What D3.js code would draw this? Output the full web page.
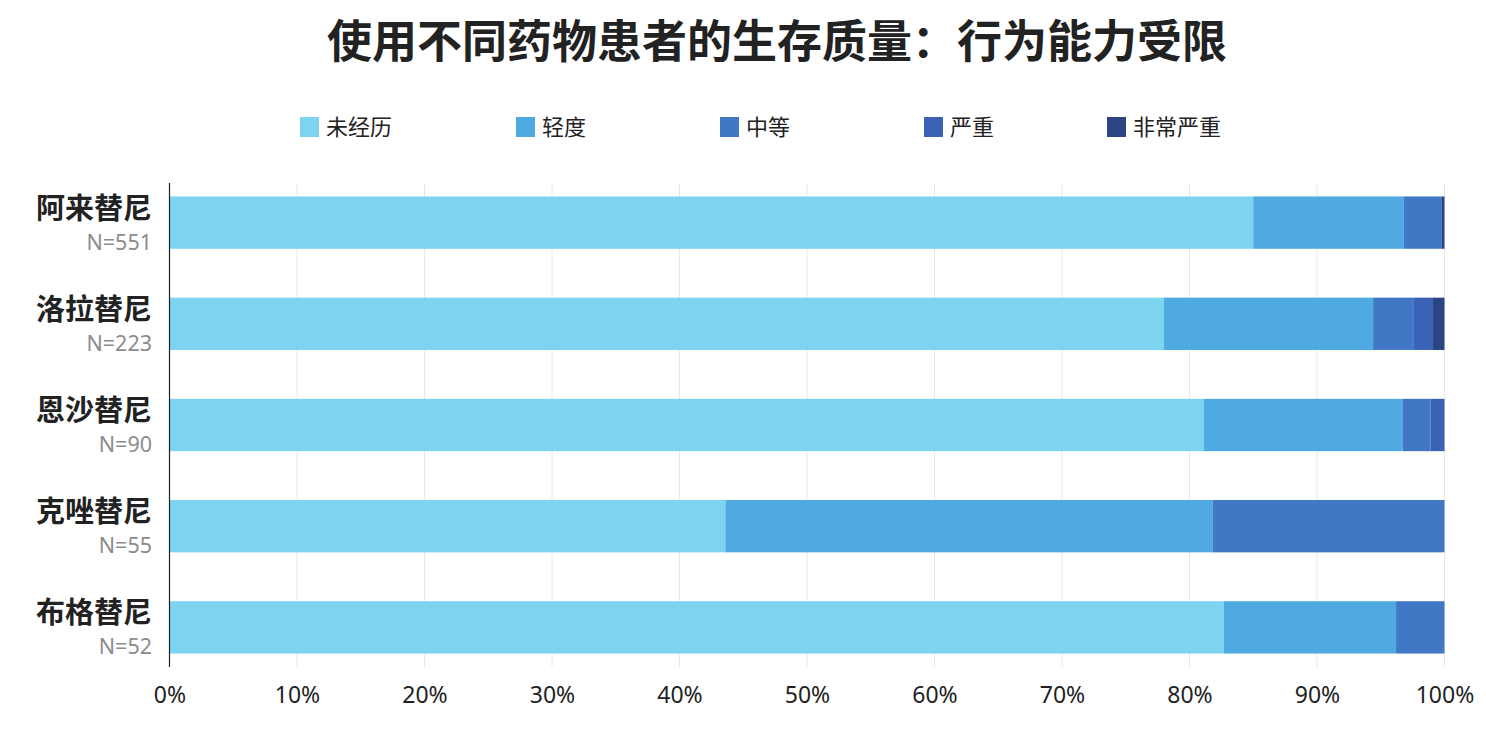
<!DOCTYPE html>
<html>
<head>
<meta charset="utf-8">
<script src="https://cdn.jsdelivr.net/npm/d3@7"></script>
<style>
  html, body { margin: 0; padding: 0; background: #ffffff; }
  svg { display: block; font-family: "Noto Sans CJK SC", "Noto Sans", sans-serif; }
</style>
</head>
<body>
<div id="chart"></div>
<script>
// chart data
const drugs = ['阿来替尼', '洛拉替尼', '恩沙替尼', '克唑替尼', '布格替尼'];
const sampleSizes = [551, 223, 90, 55, 52];
const levels = ['未经历', '轻度', '中等', '严重', '非常严重'];
const levelColors = ['#7dd4f1', '#4eaae0', '#4078c5', '#3a63b8', '#2c4484'];

// percent of patients per level, one array per level (same order as drugs)
const noneVals = [85.0, 78.0, 81.1, 43.6, 82.7];
const mildVals = [11.8, 16.4, 15.6, 38.2, 13.5];
const moderateVals = [3.0, 3.2, 2.2, 18.2, 3.8];
const severeVals = [0.0, 1.5, 1.1, 0.0, 0.0];
const verySevereVals = [0.2, 0.9, 0.0, 0.0, 0.0];

const xTicks = [0, 10, 20, 30, 40, 50, 60, 70, 80, 90, 100];
const title = '使用不同药物患者的生存质量：行为能力受限';

const width = 1486, height = 754;
const plot = { left: 169.5, right: 1444.5, top: 183, bottom: 667 };
const latinFont = '"Noto Sans", "Noto Sans CJK SC", sans-serif';

const table = drugs.map((drug, i) => ({
  drug,
  n: sampleSizes[i],
  '未经历': noneVals[i],
  '轻度': mildVals[i],
  '中等': moderateVals[i],
  '严重': severeVals[i],
  '非常严重': verySevereVals[i]
}));

const series = d3.stack().keys(levels)(table);

const svg = d3.select('#chart').append('svg')
  .attr('width', width)
  .attr('height', height)
  .attr('viewBox', `0 0 ${width} ${height}`);

const x = d3.scaleLinear().domain([0, 100]).range([plot.left, plot.right]);
const y = d3.scaleBand().domain(drugs).range([plot.top, plot.bottom])
  .paddingInner(0.483).paddingOuter(0.133);
const color = d3.scaleOrdinal().domain(levels).range(levelColors);

// title
svg.append('text')
  .attr('x', width / 2 + 34)
  .attr('y', 58)
  .attr('text-anchor', 'middle')
  .style('font-size', '45px')
  .style('font-weight', 'bold')
  .style('fill', '#222222')
  .text(title);

// legend
const legendX = [300, 516, 720, 924, 1107];
const legend = svg.append('g').selectAll('g')
  .data(levels)
  .join('g')
  .attr('transform', (d, i) => `translate(${legendX[i]},117)`);
legend.append('rect')
  .attr('width', 19).attr('height', 20)
  .attr('fill', d => color(d));
legend.append('text')
  .attr('x', 26).attr('y', 10)
  .attr('dy', '0.36em')
  .style('font-size', '22px')
  .style('fill', '#222222')
  .text(d => d);

// vertical grid lines
svg.append('g')
  .selectAll('line')
  .data(xTicks.slice(1))
  .join('line')
  .attr('x1', d => x(d)).attr('x2', d => x(d))
  .attr('y1', plot.top).attr('y2', plot.bottom)
  .attr('stroke', '#e8e8e8')
  .attr('stroke-width', 1);

// bars
svg.append('g')
  .selectAll('g')
  .data(series)
  .join('g')
  .attr('fill', d => color(d.key))
  .selectAll('rect')
  .data(d => d)
  .join('rect')
  .attr('x', d => x(d[0]))
  .attr('y', d => y(d.data.drug))
  .attr('width', d => Math.max(0, x(d[1]) - x(d[0])))
  .attr('height', y.bandwidth());

// x axis labels
const xAxis = svg.append('g')
  .attr('transform', `translate(0,${plot.bottom})`)
  .call(d3.axisBottom(x).tickValues(xTicks).tickFormat(d => d + '%').tickSize(0).tickPadding(20));
xAxis.select('.domain').remove();
xAxis.selectAll('text')
  .style('font-family', latinFont)
  .style('font-size', '23px')
  .style('fill', '#222222');

// left axis line
svg.append('line')
  .attr('x1', plot.left).attr('x2', plot.left)
  .attr('y1', plot.top).attr('y2', plot.bottom)
  .attr('stroke', '#222222')
  .attr('stroke-width', 1.2);

// y labels: drug name + sample size
const yLabels = svg.append('g')
  .selectAll('g')
  .data(table)
  .join('g')
  .attr('transform', d => `translate(152,${y(d.drug) + y.bandwidth() / 2})`);
yLabels.append('text')
  .attr('text-anchor', 'end')
  .attr('y', -4)
  .style('font-size', '29px')
  .style('font-weight', 'bold')
  .style('fill', '#222222')
  .text(d => d.drug);
yLabels.append('text')
  .attr('text-anchor', 'end')
  .attr('y', 27)
  .style('font-family', latinFont)
  .style('font-size', '21.5px')
  .style('fill', '#8c8c8c')
  .text(d => `N=${d.n}`);
</script>
</body>
</html>
